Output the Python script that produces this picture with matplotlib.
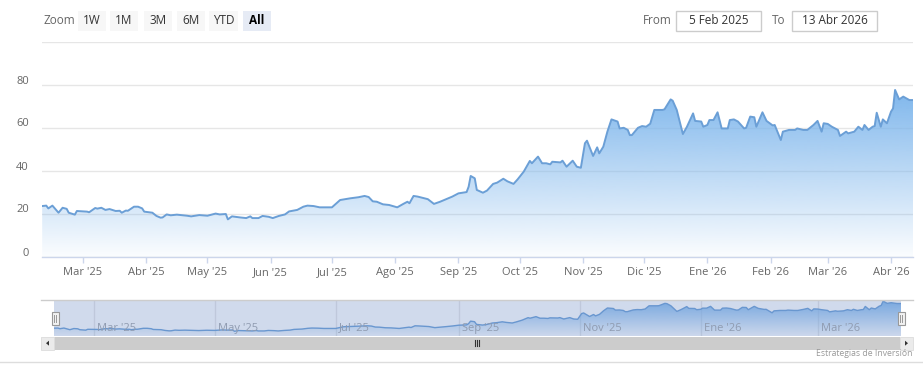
import matplotlib
matplotlib.use("Agg")
import matplotlib.pyplot as plt
import matplotlib.dates as mdates
import matplotlib.transforms as mtransforms
from matplotlib.patches import Rectangle, Polygon
from matplotlib.colors import to_rgb
import numpy as np
import pandas as pd

plt.rcParams['font.family'] = ['Open Sans', 'DejaVu Sans']

# ---------------- data ----------------
dates = ["2025-02-09", "2025-02-11", "2025-02-12", "2025-02-14", "2025-02-17", "2025-02-19", "2025-02-21",
         "2025-02-22", "2025-02-25", "2025-02-26", "2025-03-03", "2025-03-04", "2025-03-07", "2025-03-08",
         "2025-03-10", "2025-03-12", "2025-03-14", "2025-03-17", "2025-03-19", "2025-03-20", "2025-03-22",
         "2025-03-23", "2025-03-26", "2025-03-28", "2025-03-30", "2025-03-31", "2025-04-04", "2025-04-06",
         "2025-04-08", "2025-04-09", "2025-04-11", "2025-04-13", "2025-04-16", "2025-04-21", "2025-04-23",
         "2025-04-27", "2025-05-01", "2025-05-05", "2025-05-07", "2025-05-10", "2025-05-11", "2025-05-13",
         "2025-05-17", "2025-05-20", "2025-05-22", "2025-05-23", "2025-05-26", "2025-05-28", "2025-05-31",
         "2025-06-02", "2025-06-05", "2025-06-08", "2025-06-10", "2025-06-14", "2025-06-17", "2025-06-19",
         "2025-06-22", "2025-06-25", "2025-07-01", "2025-07-05", "2025-07-10", "2025-07-14", "2025-07-17",
         "2025-07-19", "2025-07-21", "2025-07-23", "2025-07-26", "2025-07-29", "2025-08-02", "2025-08-05",
         "2025-08-07", "2025-08-08", "2025-08-10", "2025-08-12", "2025-08-17", "2025-08-20", "2025-08-23",
         "2025-08-26", "2025-08-29", "2025-09-01", "2025-09-05", "2025-09-06", "2025-09-07", "2025-09-09",
         "2025-09-10", "2025-09-13", "2025-09-15", "2025-09-18", "2025-09-20", "2025-09-23", "2025-09-25",
         "2025-09-28", "2025-09-30", "2025-10-03", "2025-10-06", "2025-10-07", "2025-10-10", "2025-10-12",
         "2025-10-14", "2025-10-16", "2025-10-17", "2025-10-21", "2025-10-22", "2025-10-24", "2025-10-27",
         "2025-10-29", "2025-10-31", "2025-11-02", "2025-11-03", "2025-11-06", "2025-11-08", "2025-11-09",
         "2025-11-11", "2025-11-13", "2025-11-15", "2025-11-18", "2025-11-19", "2025-11-21", "2025-11-23",
         "2025-11-24", "2025-11-25", "2025-11-28", "2025-11-30", "2025-12-02", "2025-12-04", "2025-12-06",
         "2025-12-10", "2025-12-11", "2025-12-14", "2025-12-15", "2025-12-17", "2025-12-20", "2025-12-22",
         "2025-12-25", "2025-12-26", "2025-12-29", "2025-12-30", "2026-01-01", "2026-01-02", "2026-01-04",
         "2026-01-06", "2026-01-08", "2026-01-11", "2026-01-12", "2026-01-14", "2026-01-16", "2026-01-19",
         "2026-01-20", "2026-01-22", "2026-01-24", "2026-01-25", "2026-01-28", "2026-01-30", "2026-02-02",
         "2026-02-03", "2026-02-06", "2026-02-07", "2026-02-10", "2026-02-13", "2026-02-14", "2026-02-17",
         "2026-02-19", "2026-02-22", "2026-02-24", "2026-02-26", "2026-02-27", "2026-03-01", "2026-03-03",
         "2026-03-06", "2026-03-07", "2026-03-10", "2026-03-11", "2026-03-14", "2026-03-16", "2026-03-18",
         "2026-03-19", "2026-03-21", "2026-03-23", "2026-03-24", "2026-03-25", "2026-03-27", "2026-03-28",
         "2026-03-30", "2026-04-01", "2026-04-02", "2026-04-03", "2026-04-05", "2026-04-07", "2026-04-09",
         "2026-04-10", "2026-04-12"]
values = [23.7, 23.9, 22.6, 23.9, 20.6, 22.9, 22.4,
          20.6, 19.7, 21.4, 21.1, 20.8, 22.8, 22.5,
          22.9, 21.9, 22.3, 21.4, 21.5, 20.6, 21.6,
          21.5, 23.4, 23.4, 22.6, 21.1, 20.6, 19.1,
          18.3, 18.4, 19.8, 19.4, 19.7, 19.2, 18.9,
          19.5, 19.2, 20.2, 19.8, 20.0, 17.5, 18.9,
          18.4, 18.1, 18.9, 18.1, 18.1, 19.1, 18.7,
          18.1, 19.1, 19.8, 21.2, 21.9, 23.4, 23.9,
          23.7, 23.1, 23.1, 26.5, 27.3, 27.8, 28.4,
          27.9, 25.9, 25.7, 24.5, 24.2, 23.1, 24.7,
          25.7, 25.0, 28.4, 28.1, 26.9, 24.7, 25.7,
          26.9, 28.1, 29.6, 30.2, 32.7, 37.7, 36.6,
          31.2, 29.9, 30.9, 34.0, 34.6, 36.4, 35.2,
          34.0, 36.1, 39.7, 44.7, 43.6, 46.7, 43.6,
          43.6, 43.1, 44.3, 44.0, 44.8, 42.0, 44.8,
          42.0, 41.5, 52.9, 54.1, 47.0, 51.0, 48.2,
          51.3, 58.3, 64.0, 63.0, 59.8, 60.1, 59.1,
          56.7, 56.7, 60.1, 60.9, 60.6, 62.0, 68.4,
          68.4, 68.7, 73.3, 72.7, 68.4, 57.2, 60.6,
          66.8, 63.3, 63.0, 60.6, 61.4, 63.7, 63.7,
          67.3, 59.8, 59.8, 63.7, 64.0, 63.0, 59.8,
          60.1, 65.3, 65.0, 60.6, 67.3, 63.3, 61.2,
          61.4, 54.4, 58.3, 59.1, 59.1, 59.8, 59.1,
          59.1, 61.4, 63.3, 58.3, 62.2, 61.9, 60.6,
          59.1, 56.3, 58.3, 57.5, 58.3, 60.6, 59.1,
          61.4, 59.1, 60.6, 60.9, 67.1, 60.6, 64.0,
          62.2, 67.6, 69.1, 77.7, 73.3, 74.6, 73.5,
          73.0, 73.0]

y_ticks = [0, 20, 40, 60, 80]
grid_levels = [0, 20, 40, 60, 80, 100]
month_starts = ["2025-03-01", "2025-04-01", "2025-05-01", "2025-06-01", "2025-07-01", "2025-08-01",
                "2025-09-01", "2025-10-01", "2025-11-01", "2025-12-01", "2026-01-01", "2026-02-01",
                "2026-03-01", "2026-04-01"]
month_labels = ["Mar '25", "Abr '25", "May '25", "Jun '25", "Jul '25", "Ago '25", "Sep '25", "Oct '25",
                "Nov '25", "Dic '25", "Ene '26", "Feb '26", "Mar '26", "Abr '26"]
nav_starts = ["2025-03-01", "2025-05-01", "2025-07-01", "2025-09-01", "2025-11-01", "2026-01-01", "2026-03-01"]
nav_labels = ["Mar '25", "May '25", "Jul '25", "Sep '25", "Nov '25", "Ene '26", "Mar '26"]
range_buttons = ["1W", "1M", "3M", "6M", "YTD", "All"]
selected_button = "All"
from_label, from_value = "From", "5 Feb 2025"
to_label, to_value = "To", "13 Abr 2026"
credit_text = "Estrategias de Inversión"

# ---------------- styling ----------------
W, H = 923, 375
LINE = '#6b9fd6'
FILL = '#7cb5ec'
GRID = '#e6e6e6'
AXIS = '#ccd6eb'
LABEL = '#666666'

fig = plt.figure(figsize=(W / 100, H / 100), dpi=100)


def axes_px(x0, y0, x1, y1, **kw):
    return fig.add_axes([x0 / W, 1 - y1 / H, (x1 - x0) / W, (y1 - y0) / H], **kw)


def gradient_fill(ax, x, y, base, color, a_top, a_bot, zorder):
    poly = ax.fill_between(x, y, base, facecolor='none', edgecolor='none', zorder=zorder)
    n = 256
    img = np.zeros((n, 1, 4))
    img[:, :, :3] = to_rgb(color)
    img[:, 0, 3] = np.linspace(a_bot, a_top, n)
    im = ax.imshow(img, aspect='auto', origin='lower', interpolation='bilinear',
                   extent=[x.min(), x.max(), base, y.max()], zorder=zorder)
    im.set_clip_path(poly.get_paths()[0], transform=ax.transData)


x = mdates.date2num(pd.to_datetime(dates))
y = np.array(values)
ref = mdates.date2num(pd.Timestamp("2025-03-01"))

# ---------------- main chart ----------------
ax = axes_px(42, 42, 913, 257)
ppd = (891 - 83) / 396.0
xl = (ref - (83 - 42) / ppd, ref + (913 - 83) / ppd)
gradient_fill(ax, x, y, 0, FILL, 0.98, 0.03, 2)
ax.plot(x, y, color=LINE, lw=1.4, zorder=3, solid_joinstyle='round')
ax.set_ylim(0, 100)
ax.set_xlim(*xl)

for s in ['top', 'left', 'right']:
    ax.spines[s].set_visible(False)
ax.spines['bottom'].set_color(AXIS)
ax.spines['bottom'].set_linewidth(1)
ax.set_yticks(grid_levels)
ax.yaxis.grid(True, color=GRID, lw=1)
ax.tick_params(axis='y', length=0, labelleft=False)
ax.set_axisbelow(True)
ylab_tr = mtransforms.offset_copy(ax.get_yaxis_transform(), fig=fig, x=-13, y=4, units='dots')
for v in y_ticks:
    ax.text(0, v, str(v), transform=ylab_tr, ha='right', va='center', fontsize=8, color=LABEL)

ax.set_xticks(mdates.date2num(pd.to_datetime(month_starts)))
ax.set_xticklabels(month_labels)
ax.tick_params(axis='x', length=4.3, width=1, color=AXIS, pad=3, labelsize=8, labelcolor=LABEL)
ax.patch.set_alpha(0)

# ---------------- navigator ----------------
nav = axes_px(54, 300, 901, 336)
nav.set_xlim(x.min(), x.max())
nav_x = mdates.date2num(pd.to_datetime(nav_starts))
for xs in nav_x:
    nav.axvline(xs, color=GRID, lw=1, zorder=1)
gradient_fill(nav, x, y, 8, FILL, 0.95, 0.05, 2)
nav.plot(x, y, color=LINE, lw=1, zorder=3)
nav.set_ylim(8, 80)
nav.set_xlim(x.min(), x.max())
nav.add_patch(Rectangle((0, 0), 1, 1, transform=nav.transAxes, facecolor=(102 / 255, 133 / 255, 194 / 255),
                        alpha=0.3, edgecolor='none', zorder=4))
lab_tr = mtransforms.offset_copy(nav.get_xaxis_transform(), fig=fig, x=3, y=0, units='dots')
for xs, lab in zip(nav_x, nav_labels):
    nav.text(xs, 0.22, lab, transform=lab_tr, ha='left', va='center', fontsize=8, color='#8f9bb0', zorder=5)
nav.set_xticks([])
nav.set_yticks([])
for s in nav.spines.values():
    s.set_visible(False)

# ---------------- UI overlay (pixel coordinates) ----------------
ui = fig.add_axes([0, 0, 1, 1], zorder=10)
ui.set_xlim(0, W)
ui.set_ylim(H, 0)
ui.axis('off')

# range selector
ui.text(43, 20.5, "Zoom", ha='left', va='center', fontsize=8.5, color=LABEL)
btn_x = [(78, 106), (110, 138), (144, 172), (177, 205), (209, 238), (243, 271)]
for (b0, b1), lab in zip(btn_x, range_buttons):
    sel = lab == selected_button
    ui.add_patch(Rectangle((b0, 11), b1 - b0, 20, facecolor='#e6ebf5' if sel else '#f7f7f7',
                           edgecolor='none'))
    ui.text((b0 + b1) / 2, 21, lab, ha='center', va='center', fontsize=8.5,
            color='#000000' if sel else '#333333', fontweight='bold' if sel else 'normal')

# date inputs
ui.text(643, 20.5, from_label, ha='left', va='center', fontsize=8.5, color=LABEL)
ui.add_patch(Rectangle((676, 11), 85, 20, facecolor='white', edgecolor='#cccccc', lw=1))
ui.text(718.5, 21, from_value, ha='center', va='center', fontsize=8.5, color='#333333')
ui.text(772, 20.5, to_label, ha='left', va='center', fontsize=8.5, color=LABEL)
ui.add_patch(Rectangle((792, 11), 85, 20, facecolor='white', edgecolor='#cccccc', lw=1))
ui.text(834.5, 21, to_value, ha='center', va='center', fontsize=8.5, color='#333333')

# navigator outline
ui.plot([41, 913], [300, 300], color='#cccccc', lw=1)

# handles
for hx in (55, 901):
    ui.add_patch(Rectangle((hx - 3.5, 311.5), 7, 13, facecolor='#f2f2f2', edgecolor='#999999', lw=0.8))
    ui.plot([hx - 1, hx - 1], [314.5, 321.5], color='#999999', lw=0.7)
    ui.plot([hx + 1, hx + 1], [314.5, 321.5], color='#999999', lw=0.7)

# scrollbar
ui.add_patch(Rectangle((41, 336.5), 872, 13.5, facecolor='#f2f2f2', edgecolor='none'))
ui.add_patch(Rectangle((54, 336.5), 846, 13.5, facecolor='#cccccc', edgecolor='none'))
ui.add_patch(Rectangle((41, 336.5), 13, 13.5, facecolor='#ebebeb', edgecolor='#dddddd', lw=0.6))
ui.add_patch(Rectangle((900, 336.5), 13, 13.5, facecolor='#ebebeb', edgecolor='#dddddd', lw=0.6))
ui.add_patch(Polygon([[46, 343.2], [49, 340.7], [49, 345.7]], closed=True, facecolor='#333333', edgecolor='none'))
ui.add_patch(Polygon([[908, 343.2], [905, 340.7], [905, 345.7]], closed=True, facecolor='#333333', edgecolor='none'))
for gx in (475, 477, 479):
    ui.plot([gx, gx], [340, 346], color='#333333', lw=0.8)

# credits and bottom separator
ui.text(913, 354, credit_text, ha='right', va='center', fontsize=6.2, color='#999999')
ui.plot([0, W], [362, 362], color='#dddddd', lw=1)

fig.savefig("out.png", dpi=100)
